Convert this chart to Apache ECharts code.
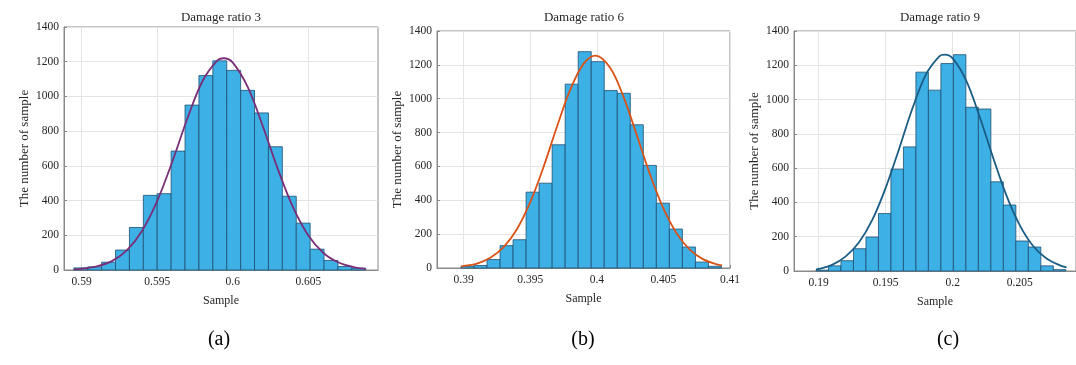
<!DOCTYPE html>
<html><head><meta charset="utf-8">
<script src="https://cdn.jsdelivr.net/npm/echarts@6/dist/echarts.min.js"></script>
<style>html,body{margin:0;padding:0;background:#fff}#c{width:1076px;height:365px}</style>
</head><body><div id="c"></div>
<script>
// ---------- data ----------
const titles = ['Damage ratio 3', 'Damage ratio 6', 'Damage ratio 9'];
const captions = ['(a)', '(b)', '(c)'];
const xName = 'Sample';
const yName = 'The number of sample';
const yTicks = [0, 200, 400, 600, 800, 1000, 1200, 1400];

const xTicksA = [0.59, 0.595, 0.6, 0.605];
const xTicksB = [0.39, 0.395, 0.4, 0.405, 0.41];
const xTicksC = [0.19, 0.195, 0.2, 0.205];

const xRangeA = [0.58883, 0.60961];
const xRangeB = [0.3880, 0.4100];
const xRangeC = [0.18816, 0.20920];

const binStartA = 0.58948, binWidthA = 0.00092;
const countsA = [12, 18, 45, 115, 245, 430, 440, 685, 950, 1120, 1205, 1150, 1035, 905, 710, 425, 270, 120, 55, 20, 10];
const binStartB = 0.3898, binWidthB = 0.000978;
const countsB = [10, 15, 50, 132, 167, 448, 501, 728, 1086, 1278, 1219, 1048, 1032, 846, 606, 383, 230, 124, 35, 10];
const binStartC = 0.1898, binWidthC = 0.000932;
const countsC = [5, 30, 60, 130, 198, 335, 594, 724, 1160, 1055, 1210, 1262, 955, 945, 520, 385, 175, 140, 30, 8];

const fitXA = [0.5895, 0.5900, 0.5910, 0.5920, 0.5930, 0.5940, 0.5950, 0.5960, 0.5970, 0.5980, 0.5990, 0.5994, 0.6000, 0.6010, 0.6020, 0.6030, 0.6040, 0.6050, 0.6060, 0.6070, 0.6080, 0.6088];
const fitYA = [4, 7, 21, 51, 114, 226, 398, 625, 874, 1089, 1209, 1220, 1195, 1052, 825, 577, 359, 199, 98, 43, 17, 7];
const fitXB = [0.3898, 0.3900, 0.3910, 0.3920, 0.3930, 0.3940, 0.3950, 0.3960, 0.3970, 0.3980, 0.3990, 0.3999, 0.4010, 0.4020, 0.4030, 0.4040, 0.4050, 0.4060, 0.4070, 0.4080, 0.4090, 0.4094];
const fitYB = [9, 11, 26, 60, 123, 229, 389, 597, 833, 1052, 1206, 1255, 1183, 1012, 785, 552, 352, 204, 107, 51, 22, 15];
const fitXC = [0.1898, 0.1900, 0.1910, 0.1920, 0.1930, 0.1940, 0.1950, 0.1960, 0.1970, 0.1980, 0.1990, 0.1994, 0.2000, 0.2010, 0.2020, 0.2030, 0.2040, 0.2050, 0.2060, 0.2070, 0.2080, 0.2085];
const fitYC = [8, 12, 36, 84, 166, 298, 485, 712, 949, 1146, 1252, 1262, 1240, 1112, 903, 665, 443, 268, 146, 73, 33, 21];

// ---------- layout / style ----------
const FONT = '"Liberation Serif", "DejaVu Serif", serif';
const TXT = '#262626';
const grids = [
  {left: 64, right: 698, top: 27, bottom: 95},
  {left: 437, right: 346, top: 31, bottom: 97},
  {left: 794, right: -10, top: 31, bottom: 94}
];
const lineColors = ['#7A2E78', '#D95319', '#1B5C84'];
const panels = [
  {ticks: xTicksA, range: xRangeA, start: binStartA, width: binWidthA, counts: countsA, fx: fitXA, fy: fitYA},
  {ticks: xTicksB, range: xRangeB, start: binStartB, width: binWidthB, counts: countsB, fx: fitXB, fy: fitYB},
  {ticks: xTicksC, range: xRangeC, start: binStartC, width: binWidthC, counts: countsC, fx: fitXC, fy: fitYC}
];

const xAxes = [], yAxes = [], series = [], graphics = [];
panels.forEach((p, i) => {
  xAxes.push({
    type: 'value', gridIndex: i, min: p.range[0], max: p.range[1],
    name: xName, nameLocation: 'middle', nameGap: 25,
    nameTextStyle: {fontFamily: FONT, fontSize: 12, color: TXT},
    axisLine: {show: true, lineStyle: {color: '#8a8a8a', width: 1}},
    axisTick: {show: true, inside: true, length: 3, customValues: p.ticks, lineStyle: {color: '#8a8a8a'}},
    axisLabel: {customValues: p.ticks, fontFamily: FONT, fontSize: 11.5, color: TXT, margin: 6,
      formatter: v => String(+(+v).toFixed(4))},
    splitLine: {show: true, lineStyle: {color: '#e4e4e4', width: 1}}
  });
  yAxes.push({
    type: 'value', gridIndex: i, min: 0, max: 1400, interval: 200,
    name: yName, nameLocation: 'middle', nameGap: 33, nameRotate: 90,
    nameTextStyle: {fontFamily: FONT, fontSize: 13, color: TXT},
    axisLine: {show: true, lineStyle: {color: '#8a8a8a', width: 1}},
    axisTick: {show: true, inside: true, length: 3, lineStyle: {color: '#8a8a8a'}},
    axisLabel: {fontFamily: FONT, fontSize: 11.5, color: TXT, margin: 5,
      formatter: v => String(v)},
    splitLine: {show: true, lineStyle: {color: '#e4e4e4', width: 1}}
  });
  const bins = p.counts.map((c, k) => [p.start + k * p.width, p.start + (k + 1) * p.width, c]);
  series.push({
    type: 'custom', xAxisIndex: i, yAxisIndex: i, data: bins, encode: {x: [0, 1], y: 2},
    silent: true, z: 2,
    renderItem: (params, api) => {
      const a = api.coord([api.value(0), api.value(2)]);
      const b = api.coord([api.value(1), 0]);
      return {type: 'rect', shape: {x: a[0], y: a[1], width: b[0] - a[0], height: b[1] - a[1]},
        style: {fill: '#3DB1E6', stroke: '#1E4E72', lineWidth: 0.8}};
    }
  });
  series.push({
    type: 'line', xAxisIndex: i, yAxisIndex: i, data: p.fx.map((x, k) => [x, p.fy[k]]),
    smooth: 0.35, showSymbol: false, silent: true, z: 3,
    lineStyle: {color: lineColors[i], width: 1.8}
  });
});

const centers = [221, 584, 940];
titles.forEach((t, i) => {
  graphics.push({type: 'text', x: centers[i], y: 18, style: {text: t, font: '13px ' + FONT, fill: TXT,
    textAlign: 'center', textVerticalAlign: 'middle', align: 'center', verticalAlign: 'middle'}});
});
const capX = [219, 583, 948];
captions.forEach((t, i) => {
  graphics.push({type: 'text', x: capX[i], y: 340, style: {text: t, font: '20px ' + FONT, fill: '#000',
    textAlign: 'center', textVerticalAlign: 'middle', align: 'center', verticalAlign: 'middle'}});
});

const chart = echarts.init(document.getElementById('c'), null, {renderer: 'canvas'});
chart.setOption({
  animation: false,
  backgroundColor: '#fff',
  grid: grids.map(g => Object.assign({show: true, borderColor: '#8a8a8a', borderWidth: 1, backgroundColor: 'transparent'}, g)),
  xAxis: xAxes, yAxis: yAxes, series, graphic: graphics
});
</script></body></html>
